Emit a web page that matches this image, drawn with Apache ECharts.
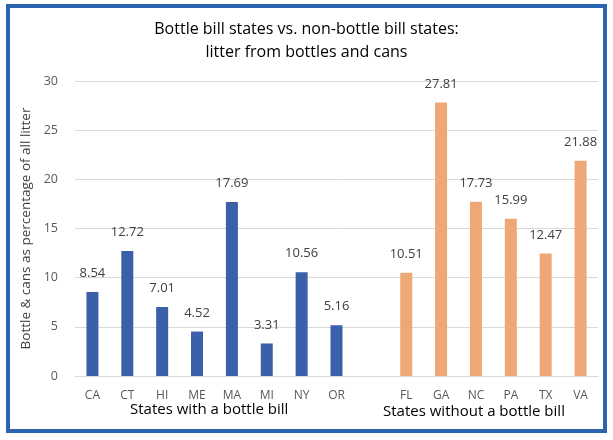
<!DOCTYPE html>
<html>
<head>
    <meta charset="utf-8">
    <title>Bottle bill litter</title>
    <script src="https://cdn.jsdelivr.net/npm/echarts@6/dist/echarts.min.js"></script>
    <style>
        html, body { margin: 0; padding: 0; background: #fff; }
        #frame {
            position: absolute; left: 6px; top: 4px;
            width: 593px; height: 421px;
            border: 4px solid #2a63b0;
        }
        #main { position: absolute; left: 0; top: 0; width: 613px; height: 440px; }
    </style>
</head>
<body>
<div id="frame"></div>
<div id="main"></div>
<script>
    // categories (one blank slot separates the two groups)
    var states = ['CA', 'CT', 'HI', 'ME', 'MA', 'MI', 'NY', 'OR', '', 'FL', 'GA', 'NC', 'PA', 'TX', 'VA'];
    // bottle & can share of litter, %
    var withBill = [8.54, 12.72, 7.01, 4.52, 17.69, 3.31, 10.56, 5.16, '-', '-', '-', '-', '-', '-', '-'];
    var withoutBill = ['-', '-', '-', '-', '-', '-', '-', '-', '-', 10.51, 27.81, 17.73, 15.99, 12.47, 21.88];
    var yTicks = [0, 5, 10, 15, 20, 25, 30];

    var myChart = echarts.init(document.getElementById('main'));

    var labelStyle = {
        show: true,
        position: 'top',
        distance: 12,
        color: '#404040',
        fontSize: 13,
        fontFamily: 'Open Sans',
        formatter: function (p) { return p.value.toFixed(2); }
    };

    var option = {
        animation: false,
        title: {
            text: 'Bottle bill states vs. non-bottle bill states:\nlitter from bottles and cans',
            left: 'center',
            top: 13,
            textStyle: {
                fontSize: 16,
                fontWeight: 'normal',
                color: '#000',
                fontFamily: 'Open Sans',
                lineHeight: 23
            }
        },
        grid: { left: 75, right: 15, top: 81, bottom: 64 },
        xAxis: {
            type: 'category',
            data: states,
            axisLine: { lineStyle: { color: '#d9d9d9' } },
            axisTick: { show: false },
            axisLabel: { color: '#595959', fontSize: 12, fontFamily: 'Open Sans', margin: 14 }
        },
        yAxis: {
            type: 'value',
            min: yTicks[0],
            max: yTicks[yTicks.length - 1],
            interval: 5,
            name: 'Bottle & cans as percentage of all litter',
            nameLocation: 'middle',
            nameGap: 37,
            nameTextStyle: { color: '#404040', fontSize: 13.5, fontFamily: 'Open Sans' },
            axisLabel: { color: '#595959', fontSize: 12.5, fontFamily: 'Open Sans', margin: 17 },
            splitLine: { lineStyle: { color: '#d9d9d9' } }
        },
        series: [
            {
                name: 'With bottle bill',
                type: 'bar',
                data: withBill,
                barWidth: 12,
                barGap: '-100%',
                itemStyle: { color: '#3c5fa9' },
                label: labelStyle
            },
            {
                name: 'Without bottle bill',
                type: 'bar',
                data: withoutBill,
                barWidth: 12,
                itemStyle: { color: '#eea878' },
                label: labelStyle
            }
        ],
        graphic: [
            {
                type: 'text', left: 130, top: 402,
                style: { text: 'States with a bottle bill', fontSize: 15, fill: '#000', fontFamily: 'Open Sans' }
            },
            {
                type: 'text', left: 383, top: 404,
                style: { text: 'States without a bottle bill', fontSize: 15, fill: '#000', fontFamily: 'Open Sans' }
            }
        ]
    };

    myChart.setOption(option);
</script>
</body>
</html>
